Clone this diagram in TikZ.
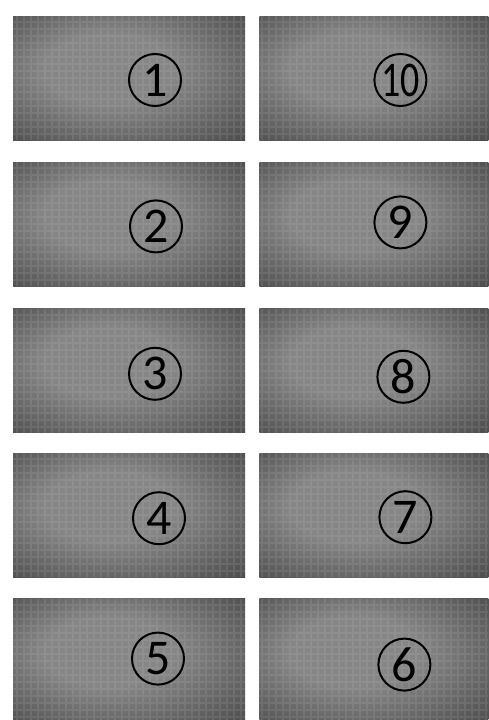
\documentclass[tikz,border=0pt]{standalone}
\usepackage{fontspec}
\setmainfont{Carlito}
\usepackage{graphicx}
\usetikzlibrary{positioning}

\definecolor{panelmid}{RGB}{134,134,134}
\definecolor{paneledge}{RGB}{70,70,70}
\definecolor{panelgrid}{RGB}{205,205,205}
\pgfdeclareradialshading{panelshade}{\pgfpoint{-6bp}{5bp}}{%
  color(0bp)=(panelmid); color(14bp)=(panelmid); color(40bp)=(paneledge); color(50bp)=(paneledge)}

\begin{document}
\begin{tikzpicture}[x=1pt, y=-1pt, node distance=22pt,
    every node/.style={font=\fontsize{50}{50}\selectfont},
    panel/.style={inner sep=0pt, minimum height=124pt, shading=panelshade,
      path picture={\draw[panelgrid, opacity=0.13, line width=2pt]
        (path picture bounding box.south west) grid[step=7pt] (path picture bounding box.north east);}},
    lpanel/.style={panel, minimum width=232pt},
    rpanel/.style={panel, minimum width=229pt},
    num/.style={draw, circle, line width=2pt, minimum size=52pt, inner sep=0pt}]
    \useasboundingbox[fill=white] (0,0) rectangle (488,720);

    % left column
    \node[lpanel] (p1) at (129,78) {};
    \node[lpanel, below=of p1] (p2) {};
    \node[lpanel, below=of p2] (p3) {};
    \node[lpanel, below=20pt of p3] (p4) {};
    \node[lpanel, below=21pt of p4] (p5) {};
    % right column
    \node[rpanel, right=14pt of p1] (p10) {};
    \node[rpanel, right=14pt of p2] (p9) {};
    \node[rpanel, right=14pt of p3] (p8) {};
    \node[rpanel, right=14pt of p4] (p7) {};
    \node[rpanel, right=14pt of p5] (p6) {};

    % circled numbers
    \node[num] (n1) at ([xshift=26pt, yshift=-2pt]p1.center) {1};
    \node[num] (n2) at ([xshift=27pt, yshift=-2pt]p2.center) {2};
    \node[num] (n3) at ([xshift=26pt, yshift=-3pt]p3.center) {3};
    \node[num] (n4) at ([xshift=30pt, yshift=-3pt]p4.center) {4};
    \node[num] (n5) at ([xshift=29pt, yshift=2pt]p5.center) {5};
    \node[num] (n6) at ([xshift=30.5pt, yshift=-4pt]p6.center) {6};
    \node[num] (n7) at ([xshift=31.5pt, yshift=-2pt]p7.center) {7};
    \node[num] (n8) at ([xshift=29.5pt, yshift=-6pt]p8.center) {8};
    \node[num] (n9) at ([xshift=26.5pt, yshift=2pt]p9.center) {9};
    \node[num] (n10) at ([xshift=26.5pt, yshift=-2pt]p10.center) {\scalebox{0.76}[1]{10}};
\end{tikzpicture}
\end{document}
